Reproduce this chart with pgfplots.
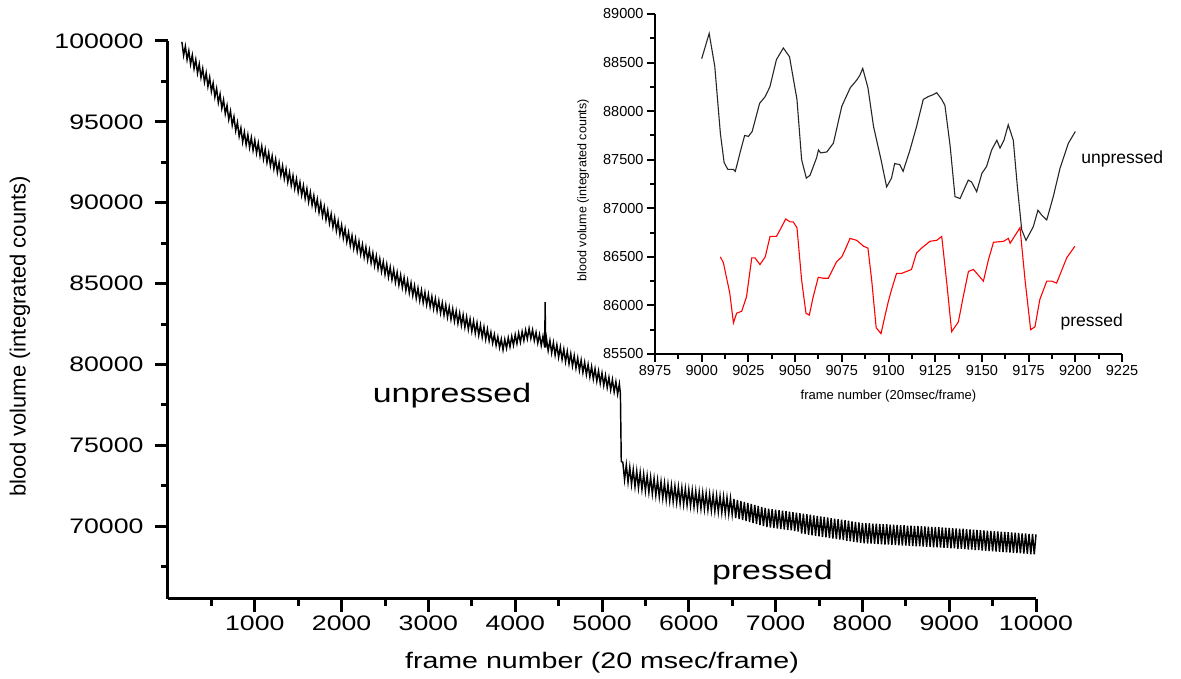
\documentclass[border=0pt]{standalone}
\usepackage{fontspec}
\setmainfont{Liberation Sans}
\newfontfamily\widesf[FakeStretch=1.27]{Liberation Sans}
\usepackage{pgfplots}
\pgfplotsset{compat=1.18}
\begin{document}
\begin{tikzpicture}
\useasboundingbox (0,0) rectangle (1181pt,679pt);
\begin{axis}[
  at={(168pt,80pt)}, anchor=south west, scale only axis,
  width=868pt, height=558pt,
  xmin=0, xmax=10000, ymin=65500, ymax=100000,
  axis lines=left, axis line style={-, line width=3pt},
  tick style={line width=3pt, black}, tick align=outside,
  major tick length=13pt, minor tick length=7pt,
  xtick={1000,2000,...,10000}, minor xtick={500,1500,...,9500},
  ytick={70000,75000,...,100000}, minor ytick={67500,72500,...,97500},
  scaled ticks=false,
  /pgf/number format/fixed, /pgf/number format/precision=0,
  /pgf/number format/1000 sep={}, /pgf/number format/assume math mode=true,
  ticklabel style={font=\widesf\fontsize{21}{25}\selectfont},
  yticklabel style={xshift=-8pt},
  xlabel={frame number (20 msec/frame)},
  ylabel={blood volume (integrated counts)},
  xlabel style={font=\widesf\fontsize{22.5}{27}\selectfont, at={(axis description cs:0.5,-0.115)}, anchor=center},
  ylabel style={font=\fontsize{22}{26}\selectfont, at={(axis description cs:-0.1705,0.471)}, anchor=center},
  clip=false,
]
\addplot[black, line width=1.45pt] coordinates {
(160,99950) (180,99110) (200,99680) (220,98840) (240,99400) (260,98560) (280,99130) (300,98290)
(320,98850) (340,98010) (360,98580) (380,97740) (400,98300) (420,97460) (440,98030) (460,97190)
(480,97750) (500,96880) (520,97400) (540,96530) (560,97060) (580,96180) (600,96710) (620,95830)
(640,96360) (660,95490) (680,96010) (700,95140) (720,95670) (740,94790) (760,95320) (780,94450)
(800,94970) (820,94100) (840,94620) (860,93750) (880,94370) (900,93580) (920,94200) (940,93410)
(960,94030) (980,93240) (1000,93860) (1020,93070) (1040,93690) (1060,92900) (1080,93500) (1100,92700)
(1120,93300) (1140,92490) (1160,93090) (1180,92290) (1200,92890) (1220,92090) (1240,92690) (1260,91880)
(1280,92480) (1300,91680) (1320,92280) (1340,91480) (1360,92080) (1380,91270) (1400,91870) (1420,91070)
(1440,91670) (1460,90870) (1480,91470) (1500,90660) (1520,91260) (1540,90460) (1560,91060) (1580,90260)
(1600,90860) (1620,90050) (1640,90650) (1660,89850) (1680,90440) (1700,89630) (1720,90220) (1740,89400)
(1760,89990) (1780,89170) (1800,89760) (1820,88950) (1840,89530) (1860,88720) (1880,89300) (1900,88490)
(1920,89080) (1940,88260) (1960,88850) (1980,88030) (2000,88620) (2020,87810) (2040,88390) (2060,87580)
(2080,88160) (2100,87350) (2120,87960) (2140,87170) (2160,87780) (2180,86990) (2200,87600) (2220,86810)
(2240,87420) (2260,86630) (2280,87250) (2300,86460) (2320,87070) (2340,86280) (2360,86890) (2380,86100)
(2400,86710) (2420,85920) (2440,86530) (2460,85740) (2480,86350) (2500,85570) (2520,86190) (2540,85400)
(2560,86020) (2580,85240) (2600,85860) (2620,85080) (2640,85690) (2660,84910) (2680,85530) (2700,84750)
(2720,85370) (2740,84580) (2760,85200) (2780,84420) (2800,85040) (2820,84260) (2840,84870) (2860,84090)
(2880,84720) (2900,83950) (2920,84590) (2940,83820) (2960,84460) (2980,83690) (3000,84330) (3020,83570)
(3040,84200) (3060,83440) (3080,84070) (3100,83310) (3120,83940) (3140,83180) (3160,83810) (3180,83050)
(3200,83680) (3220,82920) (3240,83550) (3260,82790) (3280,83430) (3300,82670) (3320,83300) (3340,82540)
(3360,83180) (3380,82420) (3400,83060) (3420,82300) (3440,82940) (3460,82170) (3480,82810) (3500,82050)
(3520,82690) (3540,81930) (3560,82570) (3580,81800) (3600,82440) (3620,81680) (3640,82320) (3660,81550)
(3680,82180) (3700,81460) (3720,81990) (3740,81320) (3760,81850) (3780,81180) (3800,81710) (3820,81040)
(3840,81570) (3860,80900) (3880,81550) (3900,81000) (3920,81650) (3940,81090) (3960,81740) (3980,81190)
(4000,81840) (4020,81290) (4040,81940) (4060,81380) (4080,82030) (4100,81480) (4120,82130) (4140,81580)
(4160,82230) (4180,81610) (4200,82140) (4220,81470) (4240,81990) (4260,81320) (4280,81850) (4300,81170)
(4320,81750) (4340,81050) (4345,83850) (4350,81050) (4360,81620) (4380,80850) (4400,81480) (4420,80710)
(4440,81350) (4460,80580) (4480,81210) (4500,80440) (4520,81080) (4540,80310) (4560,80940) (4580,80170)
(4600,80810) (4620,80040) (4640,80670) (4660,79900) (4680,80540) (4700,79770) (4720,80400) (4740,79630)
(4760,80270) (4780,79500) (4800,80130) (4820,79370) (4840,80000) (4860,79230) (4880,79870) (4900,79100)
(4920,79730) (4940,78970) (4960,79600) (4980,78830) (5000,79470) (5020,78700) (5040,79330) (5060,78570)
(5080,79200) (5100,78430) (5120,79070) (5140,78300) (5160,78930) (5180,78170) (5200,78800) (5212,78200)
(5222,74000)
(5240,73950) (5260,72870) (5280,73800) (5300,72720) (5320,73650) (5340,72580) (5360,73500) (5380,72450)
(5400,73410) (5420,72360) (5440,73320) (5460,72270) (5480,73220) (5500,72180) (5520,73130) (5540,72090)
(5560,73040) (5580,71990) (5600,72950) (5620,71900) (5640,72850) (5660,71810) (5680,72760) (5700,71720)
(5720,72670) (5740,71620) (5760,72590) (5780,71560) (5800,72530) (5820,71510) (5840,72480) (5860,71460)
(5880,72430) (5900,71400) (5920,72380) (5940,71350) (5960,72320) (5980,71300) (6000,72270) (6020,71250)
(6040,72220) (6060,71190) (6080,72170) (6100,71140) (6120,72110) (6140,71090) (6160,72070) (6180,71050)
(6200,72030) (6220,71010) (6240,71980) (6260,70960) (6280,71940) (6300,70920) (6320,71900) (6340,70880)
(6360,71860) (6380,70840) (6400,71820) (6420,70800) (6440,71770) (6460,70750) (6480,71730) (6500,70710)
(6520,71690) (6540,70500) (6560,71620) (6580,70440) (6600,71560) (6620,70380) (6640,71500) (6660,70320)
(6680,71440) (6700,70260) (6720,71380) (6740,70200) (6760,71320) (6780,70140) (6800,71250) (6820,70070)
(6840,71190) (6860,70010) (6880,71130) (6900,69950) (6920,71090) (6940,69920) (6960,71050) (6980,69890)
(7000,71020) (7020,69860) (7040,70990) (7060,69830) (7080,70960) (7100,69800) (7120,70930) (7140,69770)
(7160,70900) (7180,69740) (7200,70870) (7220,69700) (7240,70840) (7260,69670) (7280,70810) (7300,69540)
(7320,70780) (7340,69510) (7360,70740) (7380,69470) (7400,70710) (7420,69440) (7440,70670) (7460,69410)
(7480,70640) (7500,69370) (7520,70610) (7540,69340) (7560,70570) (7580,69310) (7600,70540) (7620,69270)
(7640,70500) (7660,69240) (7680,70470) (7700,69200) (7720,70440) (7740,69170) (7760,70400) (7780,69140)
(7800,70370) (7820,69100) (7840,70340) (7860,69070) (7880,70300) (7900,69030) (7920,70270) (7940,69000)
(7960,70230) (7980,68970) (8000,70200) (8020,68940) (8040,70190) (8060,68930) (8080,70180) (8100,68920)
(8120,70160) (8140,68910) (8160,70150) (8180,68900) (8200,70140) (8220,68880) (8240,70130) (8260,68870)
(8280,70120) (8300,68860) (8320,70100) (8340,68850) (8360,70090) (8380,68840) (8400,70080) (8420,68820)
(8440,70070) (8460,68810) (8480,70060) (8500,68800) (8520,70040) (8540,68790) (8560,70030) (8580,68780)
(8600,70020) (8620,68760) (8640,70010) (8660,68750) (8680,70000) (8700,68740) (8720,69980) (8740,68730)
(8760,69970) (8780,68720) (8800,69960) (8820,68700) (8840,69950) (8860,68690) (8880,69940) (8900,68680)
(8920,69920) (8940,68670) (8960,69910) (8980,68660) (9000,69900) (9020,68640) (9040,69880) (9060,68630)
(9080,69870) (9100,68610) (9120,69850) (9140,68600) (9160,69840) (9180,68580) (9200,69820) (9220,68560)
(9240,69800) (9260,68550) (9280,69790) (9300,68530) (9320,69770) (9340,68520) (9360,69760) (9380,68500)
(9400,69740) (9420,68480) (9440,69720) (9460,68470) (9480,69710) (9500,68450) (9520,69690) (9540,68430)
(9560,69680) (9580,68420) (9600,69660) (9620,68400) (9640,69640) (9660,68390) (9680,69630) (9700,68370)
(9720,69610) (9740,68350) (9760,69600) (9780,68340) (9800,69580) (9820,68320) (9840,69560) (9860,68310)
(9880,69550) (9900,68290) (9920,69530) (9940,68270) (9960,69520) (9980,68260) (10000,69500)
};
\node[font=\widesf\fontsize{26.7}{32}\selectfont, anchor=center] at (axis cs:3272,78100) {unpressed};
\node[font=\widesf\fontsize{26.7}{32}\selectfont, anchor=center] at (axis cs:6963,67150) {pressed};
\end{axis}

\begin{axis}[
  at={(655pt,325pt)}, anchor=south west, scale only axis,
  width=467pt, height=340pt,
  xmin=8975, xmax=9225, ymin=85500, ymax=89000,
  axis lines=left, axis line style={-, line width=2.2pt},
  tick style={line width=2pt, black}, tick align=outside,
  major tick length=8pt, minor tick length=5pt,
  xtick={8975,9000,...,9225}, minor xtick={8987.5,9012.5,...,9212.5},
  ytick={85500,86000,...,89000}, minor ytick={85750,86250,...,88750},
  scaled ticks=false,
  /pgf/number format/fixed, /pgf/number format/precision=0,
  /pgf/number format/1000 sep={}, /pgf/number format/assume math mode=true,
  ticklabel style={font=\fontsize{14.5}{17}\selectfont},
  xlabel={frame number (20msec/frame)},
  ylabel={blood volume (integrated counts)},
  xlabel style={font=\fontsize{13}{15}\selectfont, at={(axis description cs:0.5,-0.1235)}, anchor=center},
  ylabel style={font=\fontsize{12.5}{15}\selectfont, at={(axis description cs:-0.154,0.482)}, anchor=center},
  clip=false,
]
\addplot[black!85, line width=1.1pt] coordinates {
(9000,88540) (9004,88800) (9007,88460) (9010,87770) (9012,87470) (9014,87400) (9017,87400) (9018,87380)
(9020.5,87570) (9023,87750) (9025,87740) (9027,87790) (9031,88080) (9034,88150) (9036.5,88250) (9040,88530)
(9043.7,88650) (9047,88560) (9051,88120) (9053.5,87500) (9056,87310) (9058,87340) (9061.5,87520) (9062.5,87600)
(9063.7,87570) (9067,87580) (9070.5,87670) (9075,88050) (9079.5,88240) (9083,88320) (9084.7,88370) (9086.2,88440)
(9089,88240) (9092,87840) (9096,87500) (9099,87220) (9101.6,87310) (9103.3,87460) (9106,87450) (9107.8,87380)
(9111.5,87600) (9115,87840) (9118.6,88120) (9121.3,88150) (9124,88170) (9125.8,88190) (9128.5,88120) (9130.2,88060)
(9133,87640) (9135.6,87120) (9138.3,87100) (9142.7,87290) (9144.5,87270) (9147.2,87170) (9150,87360) (9152.5,87430)
(9155.2,87600) (9158,87700) (9159.7,87620) (9161.8,87700) (9164.1,87860) (9166.8,87700) (9169,87220) (9171.3,86780)
(9173.6,86670) (9177.5,86810) (9180,86980) (9182,86930) (9184.7,86880) (9188.2,87120) (9191.8,87410) (9196.3,87670)
(9200,87790)
};
\addplot[red, line width=1.1pt] coordinates {
(9010,86500) (9011.6,86440) (9015,86130) (9017,85820) (9018.7,85920) (9021.4,85940) (9024,86090) (9026.8,86490)
(9028.5,86490) (9031.2,86420) (9034,86500) (9036.6,86710) (9040,86710) (9042,86780) (9045,86890) (9047.3,86860)
(9049,86860) (9051,86800) (9053.5,86260) (9055.8,85920) (9057.6,85900) (9059.7,86090) (9062.4,86290) (9065,86280)
(9067.8,86280) (9072.2,86450) (9075,86500) (9076.7,86570) (9079.4,86690) (9083,86670) (9086.6,86610) (9089,86590)
(9091,86260) (9093.4,85770) (9096,85710) (9098.2,85900) (9099.9,86040) (9101.6,86160) (9104.3,86330) (9107,86330)
(9109.7,86350) (9112.3,86370) (9115,86540) (9117.7,86590) (9122.2,86660) (9125.8,86670) (9128.5,86710) (9131.2,86230)
(9133.8,85730) (9137.4,85830) (9140,86090) (9142.8,86350) (9145.5,86370) (9150.8,86250) (9153.5,86470) (9156.2,86650)
(9161.6,86660) (9164.2,86690) (9165.1,86640) (9170.4,86800) (9173.1,86260) (9176.1,85750) (9178.4,85780) (9181,86060)
(9184.7,86250) (9187.3,86250) (9190,86230) (9195.4,86490) (9199.8,86610)
};
\node[font=\fontsize{17.5}{20}\selectfont, anchor=west] at (axis cs:9201.4,87508) {unpressed};
\node[font=\fontsize{17.5}{20}\selectfont, anchor=west] at (axis cs:9190.2,85831) {pressed};
\end{axis}
\end{tikzpicture}
\end{document}
